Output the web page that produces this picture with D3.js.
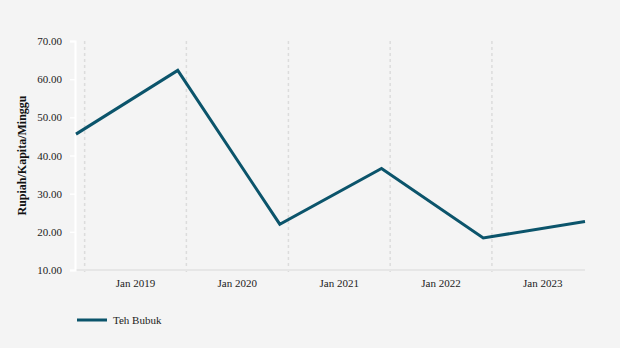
<!DOCTYPE html>
<html>
<head>
<meta charset="utf-8">
<script src="https://cdn.jsdelivr.net/npm/d3@7"></script>
<style>
  html, body { margin: 0; padding: 0; background: #f4f4f4; }
  svg text { font-family: "Liberation Serif", "Times New Roman", Times, serif !important; }
</style>
</head>
<body>
<svg id="chart" width="620" height="348"></svg>
<script>
// Weekly per-capita spending on powdered tea (Rupiah), one reading per year
const periods = ["2018-12-01", "2019-12-01", "2020-12-01", "2021-12-01", "2022-12-01", "2023-12-01"];
const tehBubuk = [45.6, 62.3, 22.0, 36.6, 18.4, 22.7];
const yTicks = [10, 20, 30, 40, 50, 60, 70];
const xTickDates = ["2019-01-01", "2020-01-01", "2021-01-01", "2022-01-01", "2023-01-01"];
const xTickLabels = ["Jan 2019", "Jan 2020", "Jan 2021", "Jan 2022", "Jan 2023"];
const seriesName = "Teh Bubuk";
const yTitle = "Rupiah/Kapita/Minggu";

const parse = d3.utcParse("%Y-%m-%d");
const dates = periods.map(parse);
const tickDates = xTickDates.map(parse);
const data = dates.map((d, i) => ({ date: d, value: tehBubuk[i] }));

const svg = d3.select("#chart");
const margin = { left: 76, right: 585, top: 41, bottom: 270 };

const x = d3.scaleUtc().domain(d3.extent(dates)).range([margin.left, margin.right]);
const y = d3.scaleLinear().domain([10, 70]).range([margin.bottom, margin.top]);

// dashed vertical gridlines at each January
svg.append("g")
  .selectAll("line")
  .data(tickDates)
  .join("line")
  .attr("x1", d => x(d)).attr("x2", d => x(d))
  .attr("y1", margin.top).attr("y2", margin.bottom + 5)
  .attr("stroke", "#dcdcdc")
  .attr("stroke-width", 1.5)
  .attr("stroke-dasharray", "3,3");

// bottom axis baseline
svg.append("line")
  .attr("x1", margin.left - 1).attr("x2", margin.right)
  .attr("y1", margin.bottom).attr("y2", margin.bottom)
  .attr("stroke", "#e6e6e6").attr("stroke-width", 2);

// x labels sit midway between consecutive year ticks
const yearSpan = x(tickDates[1]) - x(tickDates[0]);
svg.append("g")
  .selectAll("text")
  .data(tickDates)
  .join("text")
  .attr("x", d => x(d) + yearSpan / 2)
  .attr("y", margin.bottom + 17)
  .attr("text-anchor", "middle")
  .attr("font-size", 11)
  .attr("fill", "#222")
  .text((d, i) => xTickLabels[i]);

// y axis
const yAxis = d3.axisLeft(y)
  .tickValues(yTicks)
  .tickFormat(d3.format(".2f"))
  .tickSize(5)
  .tickPadding(8);
const gy = svg.append("g")
  .attr("transform", `translate(${margin.left - 1},0)`)
  .call(yAxis);
gy.select(".domain").attr("stroke", "#ffffff").attr("stroke-width", 2);
gy.selectAll(".tick line").attr("stroke", "#ffffff").attr("stroke-width", 1.5);
gy.selectAll(".tick text")
  .attr("font-size", 11)
  .attr("fill", "#222");

// y axis title
svg.append("text")
  .attr("transform", `translate(26,${(margin.top + margin.bottom) / 2}) rotate(-90)`)
  .attr("text-anchor", "middle")
  .attr("font-size", 12)
  .attr("font-weight", "bold")
  .attr("fill", "#111")
  .text(yTitle);

// series line
const line = d3.line().x(d => x(d.date)).y(d => y(d.value));
svg.append("path")
  .datum(data)
  .attr("d", line)
  .attr("fill", "none")
  .attr("stroke", "#0b546b")
  .attr("stroke-width", 3)
  .attr("stroke-linejoin", "miter");

// legend
const legend = svg.append("g").attr("transform", "translate(77,320)");
legend.append("line")
  .attr("x1", 0).attr("x2", 30)
  .attr("y1", 0).attr("y2", 0)
  .attr("stroke", "#0b546b").attr("stroke-width", 3);
legend.append("text")
  .attr("x", 36).attr("y", 4)
  .attr("font-size", 11)
  .attr("fill", "#222")
  .text(seriesName);
</script>
</body>
</html>
